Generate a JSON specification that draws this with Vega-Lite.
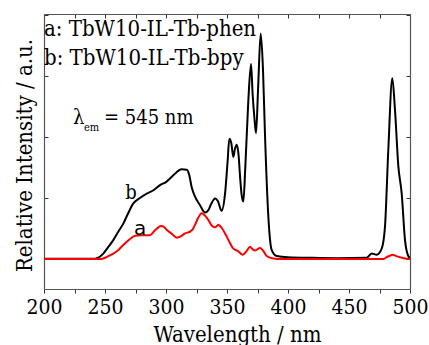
{
  "$schema": "https://vega.github.io/schema/vega-lite/v6.json",
  "width": 366,
  "height": 275,
  "autosize": "none",
  "padding": {"left": 44, "top": 14, "right": 19, "bottom": 56},
  "background": "white",
  "config": {
    "view": {"stroke": null},
    "font": "DejaVu Serif Condensed",
    "axis": {"grid": false, "domainColor": "#555", "domainWidth": 1.2, "tickColor": "#333", "labelFont": "DejaVu Serif Condensed", "titleFont": "DejaVu Serif Condensed", "titleFontWeight": "normal", "labelColor": "black", "titleColor": "black"}
  },
  "datasets": {
    "spectra": [
      {"s": "b", "w": 200, "v": 0.005}, {"s": "b", "w": 240, "v": 0.005}, {"s": "b", "w": 244, "v": 0.02}, {"s": "b", "w": 248.6, "v": 0.09}, {"s": "b", "w": 252, "v": 0.18}, {"s": "b", "w": 256.8, "v": 0.31}, {"s": "b", "w": 261, "v": 0.45}, {"s": "b", "w": 265, "v": 0.58}, {"s": "b", "w": 269, "v": 0.75}, {"s": "b", "w": 273.2, "v": 0.91}, {"s": "b", "w": 278, "v": 0.99}, {"s": "b", "w": 284.2, "v": 1.07}, {"s": "b", "w": 290, "v": 1.13}, {"s": "b", "w": 295.1, "v": 1.21}, {"s": "b", "w": 300, "v": 1.26}, {"s": "b", "w": 306, "v": 1.37}, {"s": "b", "w": 312.8, "v": 1.47}, {"s": "b", "w": 317, "v": 1.46}, {"s": "b", "w": 319, "v": 1.38}, {"s": "b", "w": 321, "v": 1.18}, {"s": "b", "w": 323.8, "v": 1.02}, {"s": "b", "w": 327.9, "v": 0.88}, {"s": "b", "w": 332, "v": 0.76}, {"s": "b", "w": 334.7, "v": 0.8}, {"s": "b", "w": 337, "v": 0.9}, {"s": "b", "w": 340.2, "v": 0.99}, {"s": "b", "w": 342.5, "v": 0.95}, {"s": "b", "w": 345.6, "v": 0.79}, {"s": "b", "w": 348.4, "v": 1.07}, {"s": "b", "w": 350.5, "v": 1.6}, {"s": "b", "w": 351.9, "v": 1.97}, {"s": "b", "w": 353.5, "v": 1.9}, {"s": "b", "w": 355.2, "v": 1.67}, {"s": "b", "w": 356.5, "v": 1.8}, {"s": "b", "w": 358, "v": 1.87}, {"s": "b", "w": 359.5, "v": 1.7}, {"s": "b", "w": 360.7, "v": 1.35}, {"s": "b", "w": 362, "v": 1.05}, {"s": "b", "w": 363.4, "v": 0.94}, {"s": "b", "w": 365, "v": 1.5}, {"s": "b", "w": 367.5, "v": 2.6}, {"s": "b", "w": 369.7, "v": 3.19}, {"s": "b", "w": 371, "v": 2.7}, {"s": "b", "w": 372.5, "v": 2.3}, {"s": "b", "w": 373.8, "v": 2.06}, {"s": "b", "w": 375.5, "v": 2.8}, {"s": "b", "w": 377.6, "v": 3.69}, {"s": "b", "w": 379.5, "v": 3.1}, {"s": "b", "w": 381.1, "v": 2.06}, {"s": "b", "w": 383.9, "v": 0.69}, {"s": "b", "w": 386.6, "v": 0.15}, {"s": "b", "w": 390.7, "v": 0.05}, {"s": "b", "w": 400, "v": 0.03}, {"s": "b", "w": 420, "v": 0.02}, {"s": "b", "w": 440, "v": 0.015}, {"s": "b", "w": 464.5, "v": 0.02}, {"s": "b", "w": 468.6, "v": 0.09}, {"s": "b", "w": 472.7, "v": 0.07}, {"s": "b", "w": 476.8, "v": 0.17}, {"s": "b", "w": 479.5, "v": 0.53}, {"s": "b", "w": 482.2, "v": 1.78}, {"s": "b", "w": 485.5, "v": 2.96}, {"s": "b", "w": 487.7, "v": 2.44}, {"s": "b", "w": 490.4, "v": 1.53}, {"s": "b", "w": 493.2, "v": 1.07}, {"s": "b", "w": 495.9, "v": 0.31}, {"s": "b", "w": 498.6, "v": 0.05}, {"s": "b", "w": 500, "v": 0.02},
      {"s": "a", "w": 200, "v": 0}, {"s": "a", "w": 245, "v": 0}, {"s": "a", "w": 248.6, "v": 0.01}, {"s": "a", "w": 252, "v": 0.04}, {"s": "a", "w": 256.8, "v": 0.09}, {"s": "a", "w": 261, "v": 0.15}, {"s": "a", "w": 265, "v": 0.23}, {"s": "a", "w": 270, "v": 0.32}, {"s": "a", "w": 274.6, "v": 0.38}, {"s": "a", "w": 280, "v": 0.39}, {"s": "a", "w": 286.9, "v": 0.39}, {"s": "a", "w": 291, "v": 0.47}, {"s": "a", "w": 295.9, "v": 0.54}, {"s": "a", "w": 298, "v": 0.53}, {"s": "a", "w": 300.5, "v": 0.48}, {"s": "a", "w": 305, "v": 0.41}, {"s": "a", "w": 308.8, "v": 0.35}, {"s": "a", "w": 312, "v": 0.37}, {"s": "a", "w": 315.6, "v": 0.42}, {"s": "a", "w": 319.7, "v": 0.45}, {"s": "a", "w": 322, "v": 0.49}, {"s": "a", "w": 323.8, "v": 0.56}, {"s": "a", "w": 326, "v": 0.66}, {"s": "a", "w": 329.3, "v": 0.75}, {"s": "a", "w": 332, "v": 0.71}, {"s": "a", "w": 334.7, "v": 0.64}, {"s": "a", "w": 337.4, "v": 0.55}, {"s": "a", "w": 340.2, "v": 0.52}, {"s": "a", "w": 342.9, "v": 0.56}, {"s": "a", "w": 344.3, "v": 0.54}, {"s": "a", "w": 346, "v": 0.5}, {"s": "a", "w": 348.4, "v": 0.42}, {"s": "a", "w": 352, "v": 0.28}, {"s": "a", "w": 355.2, "v": 0.17}, {"s": "a", "w": 359, "v": 0.13}, {"s": "a", "w": 362.9, "v": 0.07}, {"s": "a", "w": 366, "v": 0.13}, {"s": "a", "w": 368.9, "v": 0.2}, {"s": "a", "w": 371, "v": 0.16}, {"s": "a", "w": 373, "v": 0.14}, {"s": "a", "w": 377, "v": 0.18}, {"s": "a", "w": 379.5, "v": 0.14}, {"s": "a", "w": 382.5, "v": 0.05}, {"s": "a", "w": 388, "v": 0.01}, {"s": "a", "w": 395, "v": 0}, {"s": "a", "w": 478, "v": 0}, {"s": "a", "w": 480.9, "v": 0.03}, {"s": "a", "w": 483, "v": 0.05}, {"s": "a", "w": 485.5, "v": 0.07}, {"s": "a", "w": 490, "v": 0.04}, {"s": "a", "w": 496, "v": 0.01}, {"s": "a", "w": 500, "v": 0}
    ]
  },
  "resolve": {"axis": {"x": "independent", "y": "independent"}},
  "layer": [
    {
      "data": {"name": "spectra"},
      "transform": [{"filter": "datum.s == 'b'"}],
      "mark": {"type": "line", "color": "black", "strokeWidth": 2, "interpolate": "monotone", "clip": true},
      "encoding": {
        "x": {"field": "w", "type": "quantitative", "scale": {"domain": [200, 500], "nice": false, "zero": false},
          "axis": {"orient": "bottom", "values": [200, 225, 250, 275, 300, 325, 350, 375, 400, 425, 450, 475, 500], "labelExpr": "datum.value % 50 == 0 ? datum.label : ''", "tickSize": 4, "labelFontSize": 21, "labelPadding": 3, "labelFlush": false, "labelOverlap": false, "title": "Wavelength / nm", "titleFontSize": 22, "titleX": 193, "titleY": 52, "titleBaseline": "alphabetic"}},
        "y": {"field": "v", "type": "quantitative", "scale": {"domain": [-0.49, 4.01], "nice": false, "zero": false},
          "axis": {"orient": "left", "values": [0, 1, 2, 3, 4], "labels": false, "tickSize": -4, "title": "Relative Intensity / a.u.", "titleFontSize": 22, "titleAngle": 270, "titleX": -13, "titleY": 141, "titleBaseline": "alphabetic", "titleAlign": "center"}}
      }
    },
    {
      "data": {"name": "spectra"},
      "transform": [{"filter": "datum.s == 'a'"}],
      "mark": {"type": "line", "color": "#ff0000", "strokeWidth": 2, "interpolate": "monotone", "clip": true},
      "encoding": {
        "x": {"field": "w", "type": "quantitative", "axis": {"orient": "top", "values": [200, 225, 250, 275, 300, 325, 350, 375, 400, 425, 450, 475, 500], "labels": false, "tickSize": -4, "title": null}},
        "y": {"field": "v", "type": "quantitative", "axis": {"orient": "right", "values": [0, 1, 2, 3, 4], "labels": false, "tickSize": -4, "title": null}}
      }
    },
    {
      "data": {"values": [
        {"t": "a: TbW10-IL-Tb-phen", "w": 200, "v": 3.65},
        {"t": "b: TbW10-IL-Tb-bpy", "w": 200, "v": 3.175}
      ]},
      "mark": {"type": "text", "align": "left", "baseline": "alphabetic", "fontSize": 22, "font": "DejaVu Serif Condensed", "color": "black"},
      "encoding": {"x": {"field": "w", "type": "quantitative", "axis": null}, "y": {"field": "v", "type": "quantitative", "axis": null}, "text": {"field": "t"}}
    },
    {
      "data": {"values": [
        {"t": "λ", "w": 223.8, "v": 2.21},
        {"t": "= 545 nm", "w": 249.2, "v": 2.21}
      ]},
      "mark": {"type": "text", "align": "left", "baseline": "alphabetic", "fontSize": 20, "font": "DejaVu Serif Condensed", "color": "black"},
      "encoding": {"x": {"field": "w", "type": "quantitative", "axis": null}, "y": {"field": "v", "type": "quantitative", "axis": null}, "text": {"field": "t"}}
    },
    {
      "data": {"values": [{"t": "em", "w": 232.8, "v": 2.09}]},
      "mark": {"type": "text", "align": "left", "baseline": "alphabetic", "fontSize": 11, "font": "DejaVu Serif Condensed", "color": "black"},
      "encoding": {"x": {"field": "w", "type": "quantitative", "axis": null}, "y": {"field": "v", "type": "quantitative", "axis": null}, "text": {"field": "t"}}
    },
    {
      "data": {"values": [{"t": "b", "w": 271.3, "v": 0.98}]},
      "mark": {"type": "text", "align": "center", "baseline": "alphabetic", "fontSize": 20, "font": "DejaVu Serif Condensed", "color": "black"},
      "encoding": {"x": {"field": "w", "type": "quantitative", "axis": null}, "y": {"field": "v", "type": "quantitative", "axis": null}, "text": {"field": "t"}}
    },
    {
      "data": {"values": [{"t": "a", "w": 278.7, "v": 0.39}]},
      "mark": {"type": "text", "align": "center", "baseline": "alphabetic", "fontSize": 20, "font": "DejaVu Sans", "color": "black"},
      "encoding": {"x": {"field": "w", "type": "quantitative", "axis": null}, "y": {"field": "v", "type": "quantitative", "axis": null}, "text": {"field": "t"}}
    }
  ]
}
